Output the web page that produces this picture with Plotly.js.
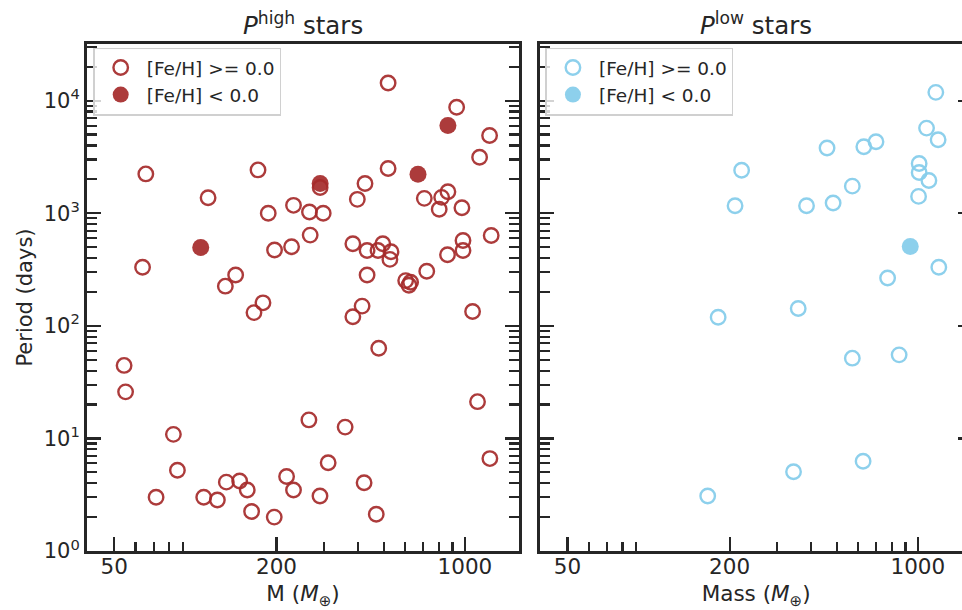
<!DOCTYPE html>
<html>
<head>
<meta charset="utf-8">
<script src="https://cdn.plot.ly/plotly-3.0.1.min.js"></script>
<style>
html,body{margin:0;padding:0;overflow:hidden;background:#fff;}
#chart{width:972px;height:610px;}
</style>
</head>
<body>
<div id="chart"></div>
<script>
// ---- Data ----
// Left panel: P^high stars
const highOpenMass = [65.5, 63.7, 111.5, 129.2, 141.1, 170.8, 178.2, 186.4, 196.7, 227.5, 231.3, 265.1, 266.7, 290.4, 298.1,
  384, 399, 426, 433.7, 433.7, 476, 496, 519, 519, 532, 527, 603, 620, 629, 707, 722, 803, 820, 865, 862, 932, 975, 984, 984,
  1134, 1235, 1252, 165, 384, 415.6, 1068, 479, 54.4, 55.1, 1114, 263.8, 359.5, 82.9, 1238, 85.8, 311, 218, 130.3, 146, 155.8,
  231.3, 422.7, 71.5, 107.4, 120.7, 290, 161.7, 196.2, 469];
const highOpenPeriod = [2234, 331, 1372, 225, 283, 2425, 160, 1000, 471, 504, 1175, 1026, 639, 1694, 1000,
  535, 1328, 1837, 467, 283, 467, 535, 2494, 14330, 455, 389, 252, 229, 244, 1355, 305, 1084, 1383, 1550, 428, 8730, 1120, 573, 467,
  3140, 4909, 634, 131, 120.5, 149.6, 134, 63.3, 44.5, 25.9, 21.2, 14.6, 12.6, 10.86, 6.62, 5.22, 6.07, 4.59, 4.09, 4.18, 3.48,
  3.48, 4.04, 3.0, 3.0, 2.84, 3.08, 2.24, 2.0, 2.12];
const highFilledMass = [104.7, 290.4, 670, 865];
const highFilledPeriod = [497, 1837, 2221, 6015];

// Right panel: P^low stars
const lowOpenMass = [1166, 1077, 1189, 460, 630, 699, 221.6, 1011, 1011, 1099, 571, 1006, 209.5, 386, 484.5, 1196, 772,
  181.3, 359.5, 571, 852, 626, 345.4, 165.8];
const lowOpenPeriod = [11840, 5700, 4496, 3794, 3900, 4318, 2410, 2761, 2299, 1954, 1740, 1411, 1166, 1166, 1232, 331, 266,
  119, 142.7, 51.6, 55.2, 6.27, 5.05, 3.08];
const lowFilledMass = [937];
const lowFilledPeriod = [507];

const legendLabels = ['[Fe/H] >= 0.0', '[Fe/H] < 0.0'];
const titles = ['<i>P</i><sup>high</sup> stars', '<i>P</i><sup>low</sup> stars'];
const xTitles = ['M (<i>M</i><sub>⊕</sub>)', 'Mass (<i>M</i><sub>⊕</sub>)'];
const yTitle = 'Period (days)';
const xTickVals = [50, 200, 1000];
const xTickText = ['50', '200', '1000'];
const xMinorVals = [60, 70, 80, 90, 300, 400, 500, 600, 700, 800, 900];
const yTickVals = [1, 10, 100, 1000, 10000];
const yTickText = ['10<sup>0</sup>', '10<sup>1</sup>', '10<sup>2</sup>', '10<sup>3</sup>', '10<sup>4</sup>'];
const yMinorVals = [];
[1, 10, 100, 1000, 10000].forEach(d => { for (let k = 2; k <= 9; k++) yMinorVals.push(k * d); });

// ---- Styles ----
const RED = 'rgba(165,42,42,0.92)';
const BLUE = 'rgba(135,206,235,0.95)';
const TXT = '#262626';
const FONT = 'DejaVu Sans, sans-serif';

function openTrace(x, y, color, xa, ya, leg) {
  return {x: x, y: y, xaxis: xa, yaxis: ya, type: 'scatter', mode: 'markers', name: legendLabels[0], legend: leg,
    marker: {symbol: 'circle-open', size: 14.5, color: color, line: {width: 2.4, color: color}}};
}
function filledTrace(x, y, color, xa, ya, leg) {
  return {x: x, y: y, xaxis: xa, yaxis: ya, type: 'scatter', mode: 'markers', name: legendLabels[1], legend: leg,
    marker: {symbol: 'circle', size: 17, color: color, line: {width: 0}}};
}

const data = [
  openTrace(highOpenMass, highOpenPeriod, RED, 'x', 'y', 'legend'),
  filledTrace(highFilledMass, highFilledPeriod, RED, 'x', 'y', 'legend'),
  openTrace(lowOpenMass, lowOpenPeriod, BLUE, 'x2', 'y2', 'legend2'),
  filledTrace(lowFilledMass, lowFilledPeriod, BLUE, 'x2', 'y2', 'legend2')
];

function xAxis(domain, title, anchor) {
  return {
    type: 'log', domain: domain, range: [1.598, 3.201], anchor: anchor,
    tickmode: 'array', tickvals: xTickVals, ticktext: xTickText,
    ticks: 'inside', ticklen: 14, tickwidth: 2.2, tickcolor: TXT, ticklabelstandoff: -6,
    minor: {tickmode: 'array', tickvals: xMinorVals, ticks: 'inside', ticklen: 9, tickwidth: 2.2, tickcolor: TXT},
    showline: true, linewidth: 3, linecolor: TXT, mirror: true,
    showgrid: false, zeroline: false,
    tickfont: {family: FONT, size: 21.5, color: TXT},
    title: {text: title, font: {family: FONT, size: 21.5, color: TXT}, standoff: 13}
  };
}
function yAxis(anchor, showLabels, title) {
  return {
    type: 'log', range: [0, 4.503], anchor: anchor, domain: [0, 1],
    tickmode: 'array', tickvals: yTickVals, ticktext: yTickText, showticklabels: showLabels,
    ticks: 'inside', ticklen: 14, tickwidth: 2.2, tickcolor: TXT,
    minor: {tickmode: 'array', tickvals: yMinorVals, ticks: 'inside', ticklen: 10, tickwidth: 2.2, tickcolor: TXT},
    showline: true, linewidth: 3, linecolor: TXT, mirror: 'allticks',
    showgrid: false, zeroline: false,
    tickfont: {family: FONT, size: 21, color: TXT},
    title: {text: title, font: {family: FONT, size: 21, color: TXT}, standoff: 6}
  };
}

const legendStyle = {
  yref: 'paper', y: 0.993, yanchor: 'top', xanchor: 'left',
  bgcolor: 'rgba(255,255,255,0.8)', bordercolor: '#d0d0d0', borderwidth: 1.5,
  font: {family: FONT, size: 18.5, color: TXT}, itemwidth: 42, tracegroupgap: 0
};

const layout = {
  width: 972, height: 610,
  margin: {l: 87, r: 0, t: 44, b: 59},
  paper_bgcolor: '#ffffff', plot_bgcolor: '#ffffff',
  showlegend: true,
  font: {family: FONT, color: TXT},
  xaxis: xAxis([0, 0.4882], xTitles[0], 'y'),
  yaxis: yAxis('x', true, yTitle),
  xaxis2: xAxis([0.5122, 1], xTitles[1], 'y2'),
  yaxis2: yAxis('x2', false, ''),
  legend: Object.assign({}, legendStyle, {xref: 'paper', x: 0.007}),
  legend2: Object.assign({}, legendStyle, {xref: 'paper', x: 0.518}),
  annotations: [
    {text: titles[0], xref: 'x domain', x: 0.5, yref: 'paper', y: 1, yanchor: 'bottom', yshift: 2, showarrow: false,
      font: {family: FONT, size: 24.5, color: TXT}},
    {text: titles[1], xref: 'x2 domain', x: 0.5, yref: 'paper', y: 1, yanchor: 'bottom', yshift: 2, showarrow: false,
      font: {family: FONT, size: 24.5, color: TXT}}
  ]
};

Plotly.newPlot('chart', data, layout, {displayModeBar: false, staticPlot: true});
</script>
</body>
</html>
